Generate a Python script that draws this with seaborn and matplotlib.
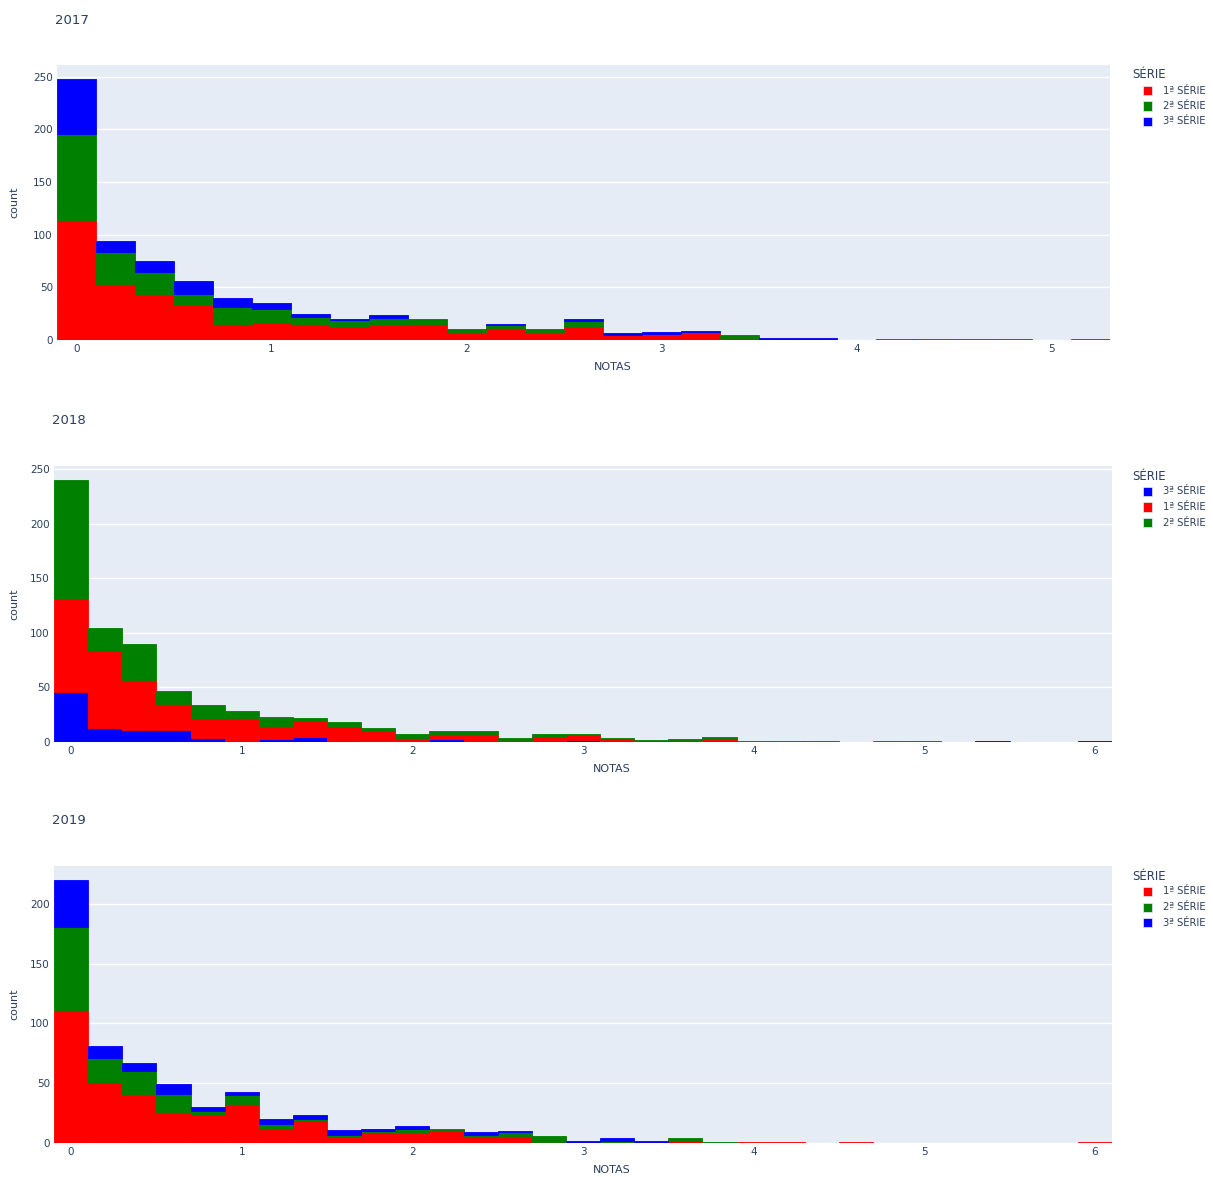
import numpy as np
import pandas as pd
import matplotlib
matplotlib.use("Agg")
import matplotlib.pyplot as plt
import seaborn as sns

# ---------------- data (counts per 0.2-wide bin, first bin centred on 0) ----------------
years = ["2017", "2018", "2019"]
series_names = ["1ª SÉRIE", "2ª SÉRIE", "3ª SÉRIE"]

counts_2017_s1 = [114, 53, 44, 33, 15, 16, 15, 12, 14, 15, 8, 11, 8, 12, 5, 6, 7, 2, 1, 1, 0, 1, 0, 0, 0, 0, 1]
counts_2017_s2 = [82, 31, 21, 11, 16, 13, 7, 7, 7, 5, 2, 3, 2, 6, 0, 0, 1, 3, 0, 0, 0, 0, 1, 1, 1, 0, 0]
counts_2017_s3 = [52, 10, 10, 12, 9, 6, 3, 1, 3, 0, 0, 1, 0, 2, 2, 2, 1, 0, 1, 1, 0, 0, 0, 0, 0, 0, 0]

counts_2018_s1 = [85, 70, 46, 24, 17, 21, 12, 14, 13, 10, 4, 4, 6, 2, 4, 4, 3, 1, 2, 3, 1, 0, 1, 0, 1, 1, 0, 0, 0, 0, 0]
counts_2018_s2 = [109, 21, 33, 12, 13, 6, 8, 3, 4, 3, 3, 3, 3, 2, 2, 1, 1, 1, 1, 2, 0, 1, 0, 0, 0, 0, 0, 0, 0, 0, 0]
counts_2018_s3 = [46, 13, 11, 11, 4, 1, 3, 5, 1, 0, 0, 3, 1, 0, 1, 2, 0, 0, 0, 0, 0, 0, 0, 0, 0, 0, 0, 1, 0, 0, 1]

counts_2019_s1 = [111, 50, 41, 26, 23, 33, 12, 18, 5, 9, 8, 11, 6, 6, 1, 1, 1, 1, 2, 0, 1, 1, 0, 1, 0, 0, 0, 0, 0, 0, 1]
counts_2019_s2 = [70, 21, 19, 15, 4, 7, 4, 2, 2, 1, 4, 1, 1, 3, 5, 0, 1, 0, 2, 1, 0, 0, 0, 0, 0, 0, 0, 0, 0, 0, 0]
counts_2019_s3 = [39, 10, 7, 8, 3, 3, 4, 3, 4, 2, 2, 0, 2, 1, 0, 1, 2, 1, 0, 0, 0, 0, 0, 0, 0, 0, 0, 0, 0, 0, 0]

bin_width = 0.2
x_ticks = [0, 1, 2, 3, 4, 5, 6]
y_ticks = [0, 50, 100, 150, 200, 250]

panel_counts = {
    "2017": {"1ª SÉRIE": counts_2017_s1, "2ª SÉRIE": counts_2017_s2, "3ª SÉRIE": counts_2017_s3},
    "2018": {"1ª SÉRIE": counts_2018_s1, "2ª SÉRIE": counts_2018_s2, "3ª SÉRIE": counts_2018_s3},
    "2019": {"1ª SÉRIE": counts_2019_s1, "2ª SÉRIE": counts_2019_s2, "3ª SÉRIE": counts_2019_s3},
}
# legend order (trace order) per panel; first trace is at the bottom of the stack
legend_orders = {
    "2017": ["1ª SÉRIE", "2ª SÉRIE", "3ª SÉRIE"],
    "2018": ["3ª SÉRIE", "1ª SÉRIE", "2ª SÉRIE"],
    "2019": ["1ª SÉRIE", "2ª SÉRIE", "3ª SÉRIE"],
}

# ---------------- style ----------------
palette = {"1ª SÉRIE": "#FF0000", "2ª SÉRIE": "#008000", "3ª SÉRIE": "#0000FF"}
BG = "#E5ECF6"
TXT = "#2a3f5f"

sns.set_theme(style="white")
plt.rcParams["font.family"] = ["DejaVu Sans"]

W, H = 1213, 1177
fig = plt.figure(figsize=(W / 100, H / 100), dpi=100)


def fx(px):
    return px / W


def fy(py):
    return 1 - py / H


# axes boxes in pixels: left, right, top, bottom
boxes = {
    "2017": (57, 1110, 65, 340),
    "2018": (54, 1112, 466, 742),
    "2019": (54, 1112, 866, 1143),
}
title_pos = {"2017": (55, 20), "2018": (52, 421), "2019": (52, 821)}

for year in years:
    l, r, t, b = boxes[year]
    ax = fig.add_axes([fx(l), fy(b), fx(r) - fx(l), (b - t) / H])
    ax.set_facecolor(BG)

    cnts = panel_counts[year]
    n = len(cnts["1ª SÉRIE"])
    centers = bin_width * np.arange(n)
    edges = (-bin_width / 2 + bin_width * np.arange(n + 1)).tolist()

    # expand the bin counts into observations located at the bin centres
    parts = []
    for s in series_names:
        vals = np.repeat(centers, cnts[s])
        parts.append(pd.DataFrame({"NOTAS": vals, "SÉRIE": s}))
    df = pd.concat(parts, ignore_index=True)

    order = legend_orders[year]
    sns.histplot(
        data=df, x="NOTAS", hue="SÉRIE",
        hue_order=order[::-1], palette=palette, multiple="stack",
        bins=edges, ax=ax, legend=False, alpha=1,
        linewidth=0,
    )
    # thin self-coloured outline so that one-count bars stay visible
    for p in ax.patches:
        if p.get_height() > 0:
            p.set_edgecolor(p.get_facecolor())
            p.set_linewidth(0.6)

    total = np.sum([cnts[s] for s in series_names], axis=0)
    ax.set_xlim(edges[0], edges[-1])
    ax.set_ylim(0, total.max() * 1.053)
    ax.set_xticks([v for v in x_ticks if v <= edges[-1]])
    ax.set_yticks([v for v in y_ticks if v <= total.max() * 1.05])
    ax.grid(axis="y", color="white", linewidth=1)
    ax.grid(axis="x", visible=False)
    ax.set_axisbelow(True)
    for sp in ax.spines.values():
        sp.set_visible(False)
    ax.tick_params(axis="both", length=0, labelsize=7.5, colors=TXT, pad=3)
    ax.set_xlabel("")
    ax.set_ylabel("")

    # axis titles
    fig.text(fx((l + r) / 2 + 29), fy(b + 27), "NOTAS", ha="center", va="center",
             fontsize=8, color=TXT)
    fig.text(fx(14), fy((t + b) / 2), "count", ha="center", va="center",
             rotation=90, fontsize=8, color=TXT)

    # panel title
    tx, ty = title_pos[year]
    fig.text(fx(tx), fy(ty), year, ha="left", va="center", fontsize=9.5, color=TXT)

    # legend (plotly style)
    lx = 1132
    ly = t + 10
    fig.text(fx(lx), fy(ly), "SÉRIE", ha="left", va="center", fontsize=8.5, color=TXT)
    for i, s in enumerate(order):
        yy = ly + 15.5 * (i + 1)
        fig.patches.append(plt.Rectangle((fx(1143), fy(yy + 4.5)), 9 / W, 9 / H,
                                         transform=fig.transFigure, facecolor=palette[s],
                                         edgecolor=BG, linewidth=0.5))
        fig.text(fx(1163), fy(yy), s, ha="left", va="center", fontsize=7.2, color=TXT)

fig.savefig("out.png", dpi=100, facecolor="white")
